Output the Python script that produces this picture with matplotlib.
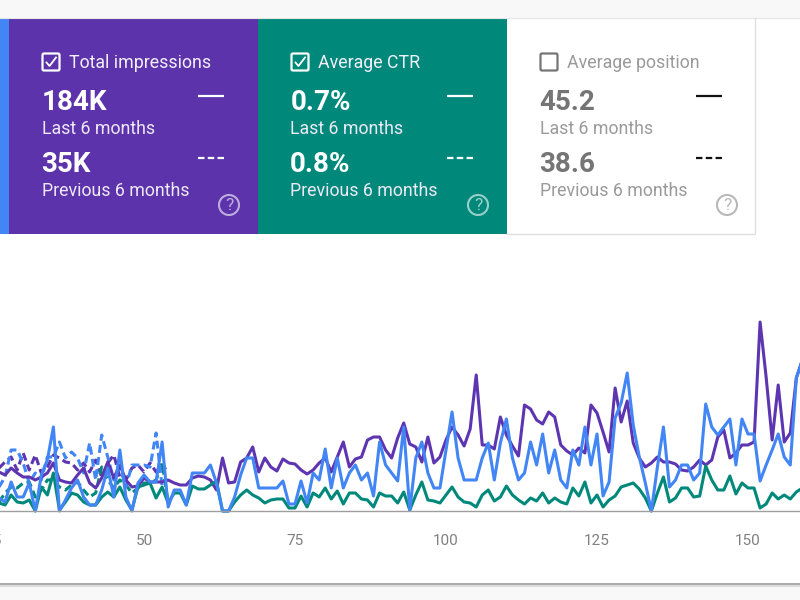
import matplotlib
matplotlib.use('Agg')
import matplotlib.pyplot as plt
from matplotlib.patches import Rectangle, Circle, FancyBboxPatch

plt.rcParams['font.family'] = ['Roboto', 'DejaVu Sans']

# day index along the x axis, first value is just off the left edge
start_day = 26
prev_start_day = 26

clicks_now = [13, 9, 29, 14, 14, 28, 0, 36, 51, 84, 0, 11, 23, 31, 14, 6, 6, 21, 43, 14, 61, 14, 0, 28, 36, 29, 29, 69, 4, 21, 21, 6, 38, 38, 38, 46, 28, 0, 0, 14, 36, 53, 53, 23, 23,
              23, 23, 30, 7, 7, 30, 8, 38, 31, 62, 23, 53, 23, 38, 46, 31, 38, 15, 69, 46, 38, 30, 84, 1, 53, 69, 38, 23, 23, 61, 99, 53, 31, 31, 31, 53, 68, 31, 68, 92, 53, 31, 38,
              69, 46, 77, 38, 61, 31, 23, 61, 46, 84, 46, 77, 15, 29, 93, 108, 138, 86, 54, 28, 0, 44, 84, 24, 31, 46, 46, 31, 38, 107, 84, 76, 84, 92, 46, 92, 77, 77, 30, 46, 61, 77, 54, 46, 133, 151]
impressions_now = [39, 36, 43, 38, 34, 34, 31, 34, 38, 48, 31, 29, 28, 36, 43, 28, 23, 33, 49, 33, 46, 31, 24, 25, 33, 29, 29, 29, 31, 28, 26, 26, 33, 35, 34, 31, 21, 53, 28, 29, 49, 53, 64, 39, 53,
                   44, 40, 52, 48, 47, 41, 37, 41, 48, 53, 39, 54, 69, 44, 52, 54, 71, 74, 74, 61, 53, 73, 88, 67, 64, 49, 74, 48, 54, 71, 84, 76, 65, 82, 136, 66, 66, 62, 94, 76, 65, 55,
                   106, 102, 91, 87, 99, 94, 66, 60, 56, 63, 58, 106, 98, 79, 59, 123, 89, 110, 68, 53, 44, 48, 54, 49, 49, 47, 41, 40, 44, 51, 46, 51, 74, 81, 53, 58, 66, 66, 69, 189, 134, 71, 126, 69, 78, 133, 151]
ctr_now = [8, 6, 16, 9, 8, 11, 0, 24, 16, 38, 1, 9, 18, 16, 9, 6, 6, 14, 19, 14, 24, 11, 1, 24, 26, 28, 13, 24, 8, 18, 18, 6, 25, 22, 22, 26, 30, 0, 0, 9, 16, 21, 16, 13, 8,
           11, 12, 12, 3, 3, 15, 4, 18, 14, 23, 12, 20, 7, 18, 18, 12, 11, 4, 18, 15, 15, 8, 19, 1, 16, 29, 11, 10, 8, 16, 24, 14, 9, 8, 4, 16, 21, 10, 14, 25, 16, 11, 7,
           13, 10, 18, 8, 13, 9, 7, 23, 15, 29, 8, 16, 4, 11, 15, 24, 26, 28, 22, 13, 0, 18, 34, 9, 13, 23, 23, 14, 15, 45, 31, 21, 21, 35, 17, 28, 23, 23, 3, 7, 18, 12, 16, 12, 19, 23]

clicks_prev = [24, 34, 61, 61, 48, 28, 38, 31, 54, 54, 69, 53, 59, 53, 38, 68, 31, 76, 54, 31, 44, 24, 46, 46, 46, 44, 78, 24]
impressions_prev = [43, 49, 54, 41, 58, 41, 56, 38, 44, 56, 53, 49, 48, 41, 48, 39, 51, 34, 48, 56, 34, 31, 43, 46, 39, 48, 39, 46, 39]
ctr_prev = [9, 18, 24, 23, 28, 29, 14, 21, 31, 31, 24, 21, 26, 29, 21, 14, 18, 44, 31, 23, 31, 26, 18, 23, 28, 28, 31, 48, 8]

x_ticks = [25, 50, 75, 100, 125, 150]

tile_names = ['Total impressions', 'Average CTR', 'Average position']
tile_now = ['184K', '0.7%', '45.2']
tile_prev = ['35K', '0.8%', '38.6']

BLUE = '#4285f4'
PURPLE = '#5e35b1'
TEAL = '#00897b'

fig = plt.figure(figsize=(8, 6), dpi=100, facecolor='#f8f8f8')

# page background and tiles, drawn in pixel coordinates
bg = fig.add_axes([0, 0, 1, 1])
bg.set_xlim(0, 800)
bg.set_ylim(600, 0)
bg.axis('off')

bg.add_patch(Rectangle((0, 584), 800, 3, color='#dcdcdc', lw=0))
bg.add_patch(Rectangle((0, 583), 800, 1.6, color='#ababab', lw=0))
bg.add_patch(Rectangle((0, 18), 800, 565, color='white', lw=0))
bg.plot([0, 800], [17.6, 17.6], color='#e6e6e6', lw=0.8)
bg.add_patch(Rectangle((0, 18), 9, 216, color=BLUE, lw=0))
bg.add_patch(Rectangle((9, 18), 249, 216, color='#5c33aa', lw=0))
bg.add_patch(Rectangle((258, 18), 249, 216, color=TEAL, lw=0))
bg.plot([507, 755, 755], [233.5, 233.5, 18], color='#e0e0e0', lw=1)


def draw_tile(left, name, now, prev, checked):
    if checked:
        box, title, big, small, key, help_col = 'white', '#f3effa', 'white', '#eee9f7', 'white', '#ffffff'
    else:
        box, title, big, small, key, help_col = '#757575', '#9a9a9a', '#757575', '#9a9a9a', '#111111', '#8a8a8a'
    bg.add_patch(FancyBboxPatch((left + 33.5, 53.5), 17, 17, boxstyle='round,pad=0,rounding_size=1.5',
                                fill=False, ec=box, lw=1.6))
    if checked:
        bg.plot([left + 37.5, left + 40.5, left + 47], [62.5, 66, 57.5], color=box, lw=1.3)
    bg.text(left + 60, 63, name, color=title, fontsize=12.8, va='center', ha='left')
    bg.text(left + 32.5, 102, now, color=big, fontsize=20, fontweight='bold', va='center', ha='left')
    bg.text(left + 32.5, 128.5, 'Last 6 months', color=small, fontsize=12.8, va='center', ha='left')
    bg.text(left + 32, 164.5, prev, color=big, fontsize=20, fontweight='bold', va='center', ha='left')
    bg.text(left + 32.5, 191, 'Previous 6 months', color=small, fontsize=12.8, va='center', ha='left')
    bg.plot([left + 189, left + 215], [95.5, 95.5], color=key, lw=1.6, solid_capstyle='butt')
    bg.plot([left + 189, left + 215], [157.5, 157.5], color=key, lw=1.6, ls=(0, (2.9, 1.5)), dash_capstyle='butt')
    bg.add_patch(Circle((left + 220, 205), 10, fill=False, ec=help_col, lw=1.5, alpha=0.6))
    bg.text(left + 220, 205, '?', color=help_col, alpha=0.6, fontsize=12.5, ha='center', va='center')


draw_tile(9, tile_names[0], tile_now[0], tile_prev[0], True)
draw_tile(258, tile_names[1], tile_now[1], tile_prev[1], True)
draw_tile(507, tile_names[2], tile_now[2], tile_prev[2], False)

# chart area: runs past the figure edges so the lines get cut off like in the screenshot
px_per_day = 6.04
x_left = 20
x_right = 160
left_px = 144 + (x_left - 50) * px_per_day
right_px = 144 + (x_right - 50) * px_per_day
ax = fig.add_axes([left_px / 800, (600 - 511) / 600, (right_px - left_px) / 800, 260 / 600])
ax.patch.set_alpha(0)
ax.set_xlim(x_left, x_right)
ax.set_ylim(0, 260)
for s in ['top', 'left', 'right']:
    ax.spines[s].set_visible(False)
ax.spines['bottom'].set_color('#9e9e9e')
ax.spines['bottom'].set_linewidth(1.0)
ax.set_yticks([])
ax.set_xticks(x_ticks)
ax.tick_params(axis='x', length=0, pad=16.5, labelsize=11, labelcolor='#808080')

dash = (0, (2.6, 1.4))
lw = 2.2


def days(values, first):
    return [first + i for i in range(len(values))]


ax.plot(days(impressions_prev, prev_start_day), impressions_prev, color=PURPLE, lw=lw, ls=dash, clip_on=False)
ax.plot(days(ctr_prev, prev_start_day), ctr_prev, color=TEAL, lw=lw, ls=dash, clip_on=False)
ax.plot(days(clicks_prev, prev_start_day), clicks_prev, color=BLUE, lw=lw, ls=dash, clip_on=False)
ax.plot(days(impressions_now, start_day), impressions_now, color=PURPLE, lw=lw, clip_on=False)
ax.plot(days(ctr_now, start_day), ctr_now, color=TEAL, lw=lw, clip_on=False)
ax.plot(days(clicks_now, start_day), clicks_now, color=BLUE, lw=lw, clip_on=False)

fig.savefig('out.png', dpi=100, facecolor=fig.get_facecolor())
